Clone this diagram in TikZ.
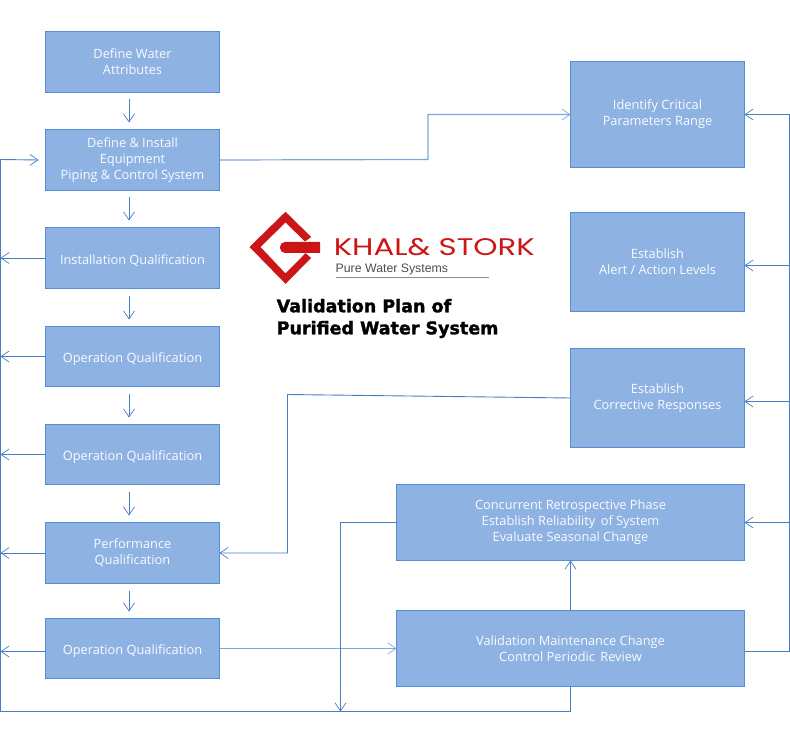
\documentclass[tikz,border=0pt]{standalone}
\usepackage{fontspec}
\usepackage{xcolor}
\usetikzlibrary{arrows.meta}
\setmainfont{Open Sans}
\newfontfamily\titlefont[BoldFeatures={FakeBold=1.6}]{DejaVu Sans}
\newfontfamily\brandfont{Poppins}
\newfontfamily\subfont{Liberation Sans}
\definecolor{boxfill}{HTML}{8EB3E3}
\definecolor{boxline}{HTML}{558ED5}
\definecolor{flowline}{HTML}{4A7EC2}
\definecolor{softline}{HTML}{7FA6DC}
\definecolor{logored}{HTML}{CC1517}
\tikzset{
	procbox/.style={draw=boxline, fill=boxfill, line width=1pt, inner sep=0pt, outer sep=0pt, align=center, text=white!95!boxfill, font=\fontsize{12.8}{16}\selectfont},
	lowtext/.style={execute at begin node={\rule{0pt}{14.5pt}}},
	flow/.style={draw=flowline, line width=0.9pt, -{Straight Barb[length=8pt,width=11pt,line width=0.7pt]}},
	softflow/.style={flow, draw=softline, line width=1.2pt},
	plain/.style={draw=flowline, line width=0.9pt},
	stepflow/.style={flow, shorten <=7pt, shorten >=7pt}
}
\begin{document}
\begin{tikzpicture}[x=1pt, y=-1pt]
	\useasboundingbox (-0.5,-0.5) rectangle (789.5,737.5);
	
	%Left column
	\node[procbox, minimum width=174pt, minimum height=61pt] (attr) at (132,61.5) {Define Water\\Attributes};
	\node[procbox, lowtext, minimum width=174pt, minimum height=61pt] (equip) at (132,159.5) {Define \& Install\\Equipment\\Piping \& Control System};
	\node[procbox, lowtext, minimum width=174pt, minimum height=61pt] (iq) at (132,257.5) {Installation Qualification};
	\node[procbox, lowtext, minimum width=174pt, minimum height=60pt] (oqa) at (132,356) {Operation Qualification};
	\node[procbox, lowtext, minimum width=174pt, minimum height=60pt] (oqb) at (132,454) {Operation Qualification};
	\node[procbox, lowtext, minimum width=174pt, minimum height=61pt] (pq) at (132,552.5) {Performance\\Qualification};
	\node[procbox, lowtext, minimum width=174pt, minimum height=60pt] (oqc) at (132,648) {Operation Qualification};
	
	%Right column
	\node[procbox, lowtext, minimum width=174pt, minimum height=106pt] (range) at (657,114) {Identify Critical\\Parameters Range};
	\node[procbox, minimum width=174pt, minimum height=99pt] (levels) at (657,261.5) {Establish\\Alert / Action Levels};
	\node[procbox, lowtext, minimum width=174pt, minimum height=99pt] (resp) at (657,397.5) {Establish\\Corrective Responses};
	\node[procbox, lowtext, minimum width=348pt, minimum height=76pt] (retro) at (570,522) {Concurrent Retrospective Phase\\Establish Reliability\, of System\\Evaluate Seasonal Change};
	\node[procbox, minimum width=348pt, minimum height=76pt] (maint) at (570,648) {Validation Maintenance Change\\Control Periodic\, Review};
	
	%Bends
	\coordinate (lbus) at (0,711);
	\coordinate (rbus) at (789,651);
	\coordinate (bendA) at (427.5,159);
	\coordinate (bendB) at (287,394);
	\coordinate (bendC) at (340,711);
	
	%Steps down
	\foreach \a/\b in {attr/equip, equip/iq, iq/oqa, oqa/oqb, oqb/pq, pq/oqc}
		\draw[stepflow] ([xshift=-3.5pt]\a.south) -- ([xshift=-3.5pt]\b.north);
	
	%Left bus
	\draw[flow] (maint.south) |- (lbus) -- (0,159) -- ([xshift=-7pt]equip.west);
	\foreach \a in {iq, oqa, oqb, pq}
		\draw[flow] (\a.west) -- (\a.west -| lbus);
	\draw[flow] ([yshift=-3pt]oqc.west) -- ([yshift=-3pt]oqc.west -| lbus);
	
	%Right bus
	\draw[plain] ([yshift=-3pt]maint.east) -- (rbus) -- (rbus |- range.east);
	\draw[flow] (rbus |- range.east) -- (range.east);
	\draw[flow] (rbus |- 0,265) -- ([yshift=-3.5pt]levels.east);
	\draw[flow] (rbus |- 0,401) -- ([yshift=-3.5pt]resp.east);
	\draw[flow] (rbus |- retro.east) -- (retro.east);
	
	%Other connectors
	\draw[softflow] (equip.east) -- (bendA) -- (bendA |- range.west) -- (range.west);
	\draw[softflow] (oqc.east) -- (oqc.east -| maint.west);
	\draw[flow] (resp.west) -- (bendB) -- (bendB |- pq.east) -- (pq.east);
	\draw[flow] (retro.west) -| (bendC);
	\draw[flow] (maint.north) -- (retro.south);
	
	%Logo
	\fill[logored] (249,246.5) -- (285,211.3) -- (310.7,236.5) -- (304.5,241) -- (285,222) -- (260,246.5) -- (285,273) -- (305,252.7) -- (310.7,257.5) -- (285,283.3) -- cycle;
	\fill[logored, rounded corners=5pt] (319.7,241.5) -- (279.5,241.5) -- (279.5,252.5) -- (319.7,252.5);
	\fill[logored] (300,241.5) rectangle (319.7,252.5);
	\node[anchor=west, inner sep=0pt, text=logored, xscale=1.285] (brand) at (333,247) {\brandfont\fontsize{24}{24}\selectfont KHAL\& STORK};
	\node[anchor=west, inner sep=0pt, text=black!70] (sub) at (335,269) {\subfont\fontsize{12.3}{14}\selectfont Pure Water Systems};
	\coordinate (subend) at (488,277);
	\draw[black!45, line width=0.8pt] (sub.south west |- subend) -- (subend);
	
	%Title
	\node[anchor=west, inner sep=0pt, align=left, font=\titlefont\bfseries\fontsize{17.5}{22}\selectfont] (title) at (276,318) {Validation Plan of\\Purified Water System};
\end{tikzpicture}
\end{document}
